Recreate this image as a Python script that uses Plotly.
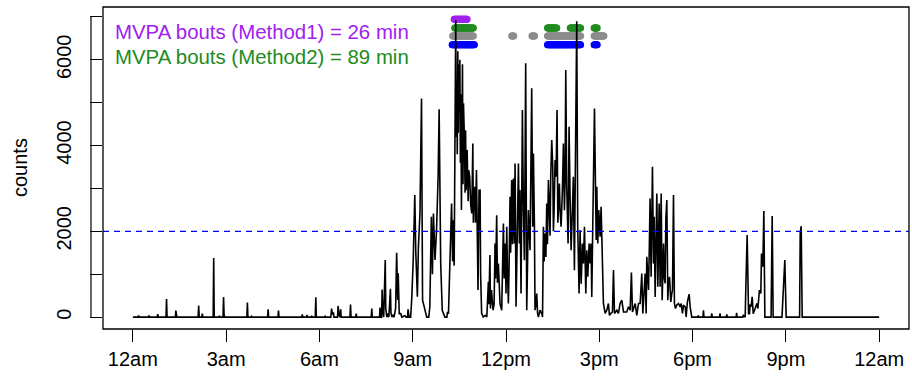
import plotly.graph_objects as go

# ---- activity counts per minute (minute of day, counts) ----
night = [(0,0),(10,0),(11,40),(12,0),(30,0),(31,40),(32,0),(47,0),(48,70),(49,0),(64,0),(65,420),(66,0),
         (82,0),(83,150),(84,20),(85,0),(126,0),(127,270),(128,0),(133,0),(134,80),(135,0),(155,0),(156,1380),
         (157,0),(166,0),(167,30),(168,0),(174,0),(175,470),(176,60),(177,0),(220,0),(221,340),(222,0),(228,0),
         (229,20),(230,0),(260,0),(261,180),(262,0),(280,0),(281,150),(282,0),(326,0),(327,60),(328,0),(335,0),
         (336,50),(337,0),(344,0),(345,30),(346,0),(352,0),(353,460),(354,0),(370,0),(371,20),(372,0),(382,0),
         (383.5,200),(385,60),(387,110),(388,0),(395,0),(396,260),(398,40),(400,0),(401,180),(402,0),(419,0),
         (420,290),(421,0),(430,0),(431,80),(432,0),(460,0),(461,200),(462,0),(476,0)]

morning = [(477,225),(478,0),(480,0),(481,640),(482,160),(484,0),(487,1330),(488,200),(490,0),(491,80),(494,0),
           (497,660),(498,100),(500,0),(502,40),(504,0),(507,200),(509,1500),(511,400),(512,1020),(514,80),
           (517,80),(519,0),(525,30),(527,0),(530,0),(531,180),(533,0),(536,0),(538,395),(541,1330),(544,2846),
           (546,1485),(549,473),(551,1640),(554,2418),(557,5100),(559,395),(562,250),(564,160),(567,0),(571,0),
           (573,240),(576,2340),(578,1000),(580,2418),(583,1330),(586,2030),(589,3274),(591,4845),(594,1250),
           (597,160),(600,40),(602,0),(606,0),(607,120),(609,80),(612,1560),(615,2650),(617,1300),(618,2260),
           (620,1200),(621,3500),(623,6930),(624,4200),(625,5500),(626,3800),(627,6200),(628,4300),(629,5900),
           (630,4800),(631,6000),(632,3600),(633,5200),(634,2500),(635,4600),(636,5900),(637,3100),(638,4985),
           (640,4050),(641,2900),(642,4360),(643,2960),(645,3895),(647,2700),(648,3430),(650,3273),(652,2600),
           (654,2418),(656,4050),(657,2200),(658,2806),(660,3040),(661,2200),(663,3430),(665,1500),(666,630),
           (668,2960),(670,2963),(671,1000),(673,84),(676,0),(680,40),(683,0),(686,823),(687,300),(689,1445),
           (690,200),(692,630),(695,160),(697,300)]

midday = [(698.9,1717),(700,900),(702,2378),(703.5,800),(705.3,1250),(708.5,316),(711.7,160),(713,900),
          (715,2184),(716.5,900),(718.2,1717),(720,550),(721.4,2106),(723,1000),(724.6,316),(726,1200),
          (727.8,2806),(729,1500),(731,3195),(732.5,1700),(734.3,3234),(736.2,1717),(737.5,3584),(739.4,240),
          (742,2106),(744,3584),(745.8,1717),(747,2962),(749,550),(751.6,4829),(753.6,2495),(755.5,1328),
          (758,5918),(760,160),(761.5,1200),(763.2,2495),(766.4,1560),(768,3000),(769.6,5335),(771.6,2106),
          (772.9,3818),(774.8,2184),(776,160),(778,300),(779.3,550),(781,80),(782.5,0),(785.7,160),(789,80),
          (790.5,0),(792.2,2106),(793.5,1300),(795.4,1950),(797,1400),(798.6,2650),(800,1700),(801.8,3195),
          (803.7,2495),(805,1900),(806.3,3273),(808.3,4129),(810.2,3506),(811.5,2000),(812.8,2495),(814.7,3662),
          (816.6,3273),(818.5,4829),(820,2200),(821.1,2806),(823,3117),(824.3,2495),(826.3,2106),(828.8,2962),
          (830.8,4051),(832.7,2495),(834,3200),(835.3,5763),(837.2,3040),(839.8,1717),(841.7,4440),(843.6,2806),
          (845.6,1560),(848.1,2495),(850,3273),(852,1095),(854.6,4051),(856.5,6900),(858.4,2106),(861,550),
          (863,2028),(865,780),(867.5,1717),(869.4,1250),(871.4,2106),(874,550),(875.9,1560),(877.8,940),
          (880.4,1717),(882.3,1250),(884.2,1717),(885.5,470),(887.5,2184),(888.7,3584),(890.7,4868),(892.6,3117),
          (894,1800),(895.2,3040),(897.1,1717),(899,2495),(901.6,1873),(903.5,2573),(905.5,1717),(908,317),
          (911.3,84)]

afternoon = [(914.5,160),(917.7,317),(919.6,40),(922.2,84),(925.4,120),(927.4,1100),(929.3,84),(933.8,160),
             (937,84),(940.2,317),(943.4,394),(946.7,120),(953,120),(956.3,240),(959.5,160),(962,1040),(964,120),
             (969.2,317),(972.4,40),(975.6,317),(978.8,317),(982,1017),(984,84),(988.5,1017),(990.4,84),
             (991.7,1406),(993.5,900),(995,630),(996.5,1600),(998,2767),(1000,940),(1002.6,3507),(1004.6,1250),
             (1005.9,2340),(1007.8,470),(1009.5,1600),(1011,2884),(1013,705),(1015.5,2651),(1017.4,705),
             (1019.4,2884),(1021.3,394),(1022.5,1095),(1024,1717),(1025.5,900),(1027,784),(1028.5,2300),
             (1030.3,2729),(1032.2,394),(1033.5,785),(1035.5,940),(1038,355),(1039.9,550),(1041.2,630),
             (1043.2,2845),(1045,316),(1047,200),(1049.6,280),(1052.8,317),(1056,240),(1058,317),(1060.5,84),
             (1062.4,278),(1065.7,240),(1067.6,5),(1070,356),(1073.4,535),(1075.3,240),(1078.5,0),(1082,0)]

evening = [(1090,0),(1091,40),(1092,0),(1100,0),(1101,160),(1102,0),(1116,0),(1117,84),(1118,0),(1132,0),
           (1133,84),(1134,0),(1145,0),(1146,60),(1147,0),(1164,0),(1165,100),(1166,0),(1177,0),(1178,40),
           (1181.5,0),(1182.8,706),(1185.3,1912),(1188,80),(1189.8,80),(1191,300),(1193,240),(1195,474),
           (1197,80),(1199.5,160),(1201.4,240),(1204,317),(1206,200),(1207.2,395),(1209,630),(1211.7,550),
           (1213,1485),(1215.6,1173),(1217.5,2473),(1219.5,0),(1231.5,0),(1233.6,2356),(1235.5,0),(1252.5,0),
           (1255.5,980),(1258,1330),(1260.6,0),(1286.5,0),(1287.7,1950),(1289.6,2120),(1291.5,0),(1440,0)]

# ---- bouts (start minute, end minute) ----
bouts_method1 = [(620, 645)]
bouts_method2 = [(621, 657), (800, 818), (844, 864), (890, 896)]
bouts_gray = [(617, 657), (731, 735), (770, 775), (800, 864), (890, 909)]
bouts_blue = [(616, 659), (800, 864), (890, 896)]
row_levels = {"purple": 6945, "green": 6742, "gray": 6556, "blue": 6353}

threshold = 2000
tick_minutes = [0, 180, 360, 540, 720, 900, 1080, 1260, 1440]
tick_labels = ["12am", "3am", "6am", "9am", "12pm", "3pm", "6pm", "9pm", "12am"]
y_ticks = [0, 1000, 2000, 3000, 4000, 5000, 6000, 7000]
y_labels = ["0", "", "2000", "", "4000", "", "6000", ""]

series = night + morning + midday + afternoon + evening
minutes = [p[0] for p in series]
counts = [p[1] for p in series]

FONT = "Liberation Sans, Arial, Helvetica, sans-serif"

def expand(bouts):
    xs = []
    for a, b in bouts:
        xs.extend(range(a, b + 1))
    return xs

fig = go.Figure()
for bouts, key, col in [(bouts_blue, "blue", "#0000FF"), (bouts_gray, "gray", "#8C8C8C"),
                        (bouts_method2, "green", "#228B22"), (bouts_method1, "purple", "#A020F0")]:
    xs = expand(bouts)
    fig.add_trace(go.Scatter(x=xs, y=[row_levels[key]] * len(xs), mode="markers",
                             marker=dict(color=col, size=7, line=dict(width=0)),
                             showlegend=False, hoverinfo="skip"))

fig.add_trace(go.Scatter(x=minutes, y=counts, mode="lines",
                         line=dict(color="black", width=1.6), showlegend=False))

x_range = [-57.6, 1497.6]
y_range = [-278, 7233]

fig.update_layout(
    width=912, height=385,
    margin=dict(l=103, r=3, t=7, b=56),
    paper_bgcolor="white", plot_bgcolor="white",
    font=dict(family=FONT, size=20, color="black"),
    xaxis=dict(range=x_range, tickvals=tick_minutes, ticktext=tick_labels,
               ticks="outside", ticklen=12, tickwidth=1.2, tickcolor="black",
               showgrid=False, zeroline=False, showline=False,
               tickfont=dict(family=FONT, size=20, color="black")),
    yaxis=dict(range=y_range, tickvals=y_ticks, ticktext=y_labels,
               ticks="outside", ticklen=12, tickwidth=1.2, tickcolor="black",
               tickangle=-90, ticklabelstandoff=11, showgrid=False, zeroline=False, showline=False,
               tickfont=dict(family=FONT, size=20, color="black")),
)

fig.layout.shapes = [
    dict(type="line", xref="paper", yref="y", x0=0, x1=1, y0=threshold, y1=threshold,
         line=dict(color="#0000FF", width=1.1, dash="6px,5px")),
    dict(type="rect", xref="paper", yref="paper", x0=0, x1=1, y0=0, y1=1,
         line=dict(color="black", width=1.3), fillcolor="rgba(0,0,0,0)", layer="above"),
    dict(type="line", xref="paper", yref="y", x0=-0.0149, x1=-0.0149, y0=0, y1=7000,
         line=dict(color="black", width=1.2)),
]

fig.layout.annotations = [
    dict(x=-38.5, y=6650, xref="x", yref="y", xanchor="left", yanchor="middle",
         text="MVPA bouts (Method1) = 26 min", showarrow=False,
         font=dict(family=FONT, size=20.4, color="#A020F0")),
    dict(x=-38.5, y=6066, xref="x", yref="y", xanchor="left", yanchor="middle",
         text="MVPA bouts (Method2) = 89 min", showarrow=False,
         font=dict(family=FONT, size=20.4, color="#228B22")),
    dict(x=(20 - 103) / 806.4, y=0.5, xref="paper", yref="paper", textangle=-90,
         xanchor="center", yanchor="middle", text="counts", showarrow=False,
         font=dict(family=FONT, size=20, color="black")),
]

fig.write_html("out.html")
